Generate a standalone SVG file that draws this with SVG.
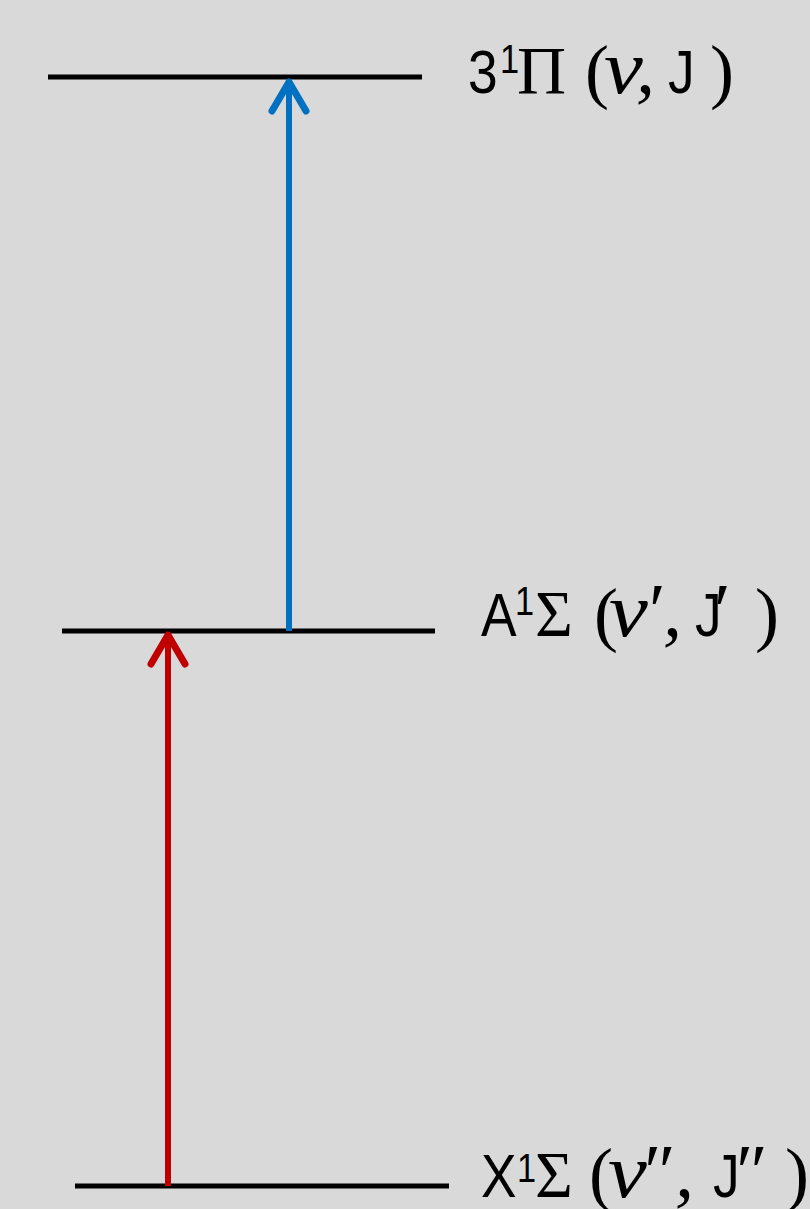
<svg xmlns="http://www.w3.org/2000/svg" width="810" height="1209" viewBox="0 0 810 1209">
<style>
.bg{fill:#d9d9d9}
.level{stroke:#000;stroke-width:5;fill:none}
.sans{font-family:"Liberation Sans",Arial,sans-serif;fill:#000}
.serif{font-family:"Liberation Serif","Times New Roman",serif;fill:#000}
.it{font-style:italic}
.big{font-size:62px}
.sup{font-size:40px}
.math{font-size:76px}
.paren{font-size:72px}
.blue{stroke:#0070c0;stroke-width:6;fill:none}
.red{stroke:#c00000;stroke-width:6;fill:none}
</style>
<defs>
<marker id="headBlue" markerUnits="userSpaceOnUse" orient="auto" refX="0" refY="0" markerWidth="40" markerHeight="40" overflow="visible">
<path d="M-29,-17 L0,0 L-29,17" fill="none" stroke="#0070c0" stroke-width="7" stroke-linecap="round" stroke-linejoin="round"/>
</marker>
<marker id="headRed" markerUnits="userSpaceOnUse" orient="auto" refX="0" refY="0" markerWidth="40" markerHeight="40" overflow="visible">
<path d="M-29,-17 L0,0 L-29,17" fill="none" stroke="#c00000" stroke-width="7" stroke-linecap="round" stroke-linejoin="round"/>
</marker>
</defs>
<rect class="bg" x="0" y="0" width="810" height="1209"/>

<g id="level-3Pi">
<line class="level" x1="48" y1="77" x2="422" y2="77"/>
<text class="sans big" transform="translate(468,93) scale(0.86,1)">3</text>
<text class="sans sup" transform="translate(500,73) scale(0.86,1)">1</text>
<text class="serif" font-size="68" x="517" y="93">Π</text>
<text class="serif paren" x="585" y="95">(</text>
<text class="serif math it" transform="translate(604,93) scale(1.15,1)">v</text>
<text class="serif math it" x="636" y="93">,</text>
<text class="sans big" transform="translate(668,93) scale(0.86,1)">J</text>
<text class="serif paren" x="710" y="95">)</text>
</g>

<g id="level-A1Sigma">
<line class="level" x1="62" y1="631" x2="435" y2="631"/>
<text class="sans big" transform="translate(481,636) scale(0.86,1)">A</text>
<text class="sans sup" transform="translate(515,615) scale(0.86,1)">1</text>
<text class="serif" font-size="65" x="535" y="636">Σ</text>
<text class="serif paren" x="594" y="638">(</text>
<text class="serif math it" transform="translate(609,636) scale(1.15,1)">v</text>
<text class="serif math" x="649" y="636">′</text>
<text class="serif math it" x="663" y="636">,</text>
<text class="sans big" transform="translate(695,636) scale(0.86,1)">J</text>
<text class="serif math" x="714" y="636">′</text>
<text class="serif paren" x="755" y="638">)</text>
</g>

<g id="level-X1Sigma">
<line class="level" x1="75" y1="1186" x2="449" y2="1186"/>
<text class="sans big" transform="translate(481,1197) scale(0.86,1)">X</text>
<text class="sans sup" transform="translate(517,1182) scale(0.86,1)">1</text>
<text class="serif" font-size="65" x="535" y="1197">Σ</text>
<text class="serif paren" x="589" y="1198">(</text>
<text class="serif math it" transform="translate(608,1197) scale(1.15,1)">v</text>
<text class="serif math" x="644" y="1197">″</text>
<text class="serif math it" x="675" y="1197">,</text>
<text class="sans big" transform="translate(713,1197) scale(0.86,1)">J</text>
<text class="serif math" x="736" y="1197">″</text>
<text class="serif paren" x="785" y="1198">)</text>
</g>

<g id="connectors">
<line id="arrow-A-to-3Pi" class="blue" x1="289" y1="631" x2="289" y2="82" marker-end="url(#headBlue)"/>
<line id="arrow-X-to-A" class="red" x1="168" y1="1186" x2="168" y2="635" marker-end="url(#headRed)"/>
</g>
</svg>
